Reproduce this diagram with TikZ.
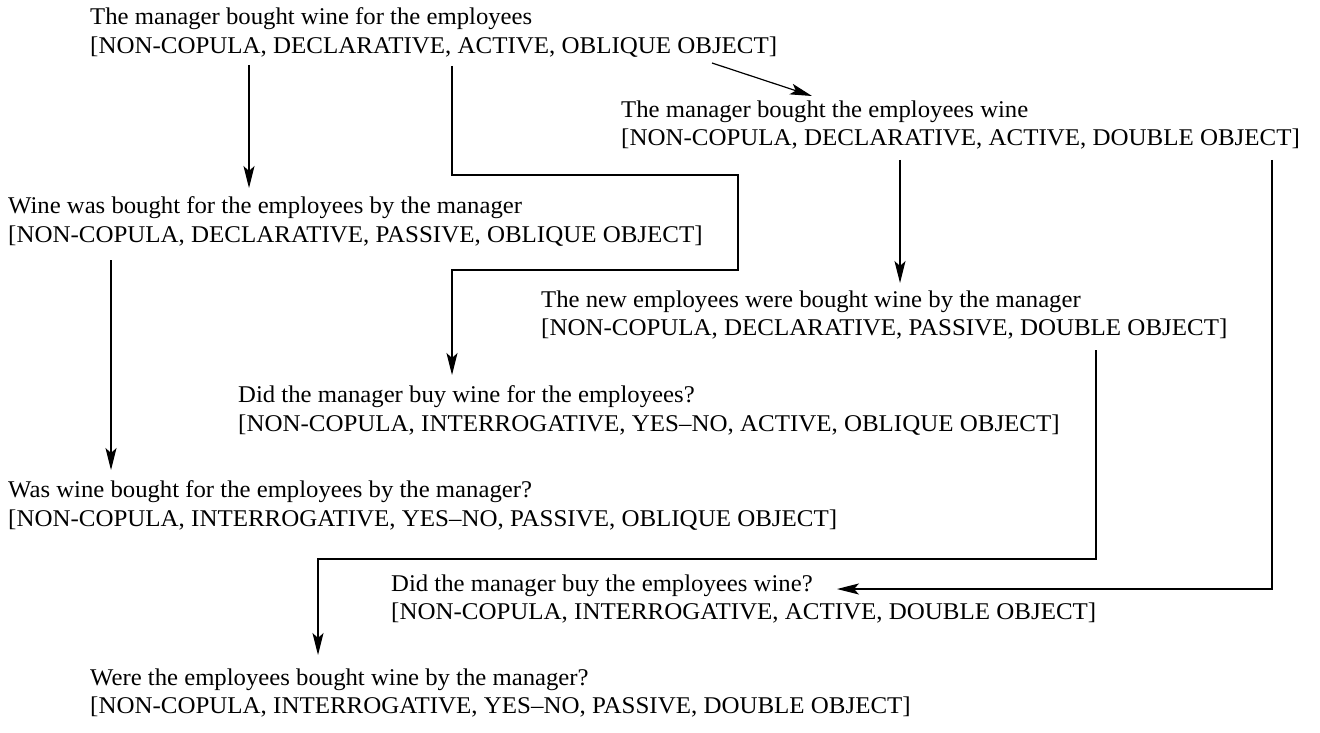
\documentclass[tikz,border=0pt]{standalone}
\usepackage{fontspec}
\setmainfont{Liberation Serif}[FakeStretch=1.03]
\newfontfamily\tagfont{Liberation Serif}[FakeStretch=1.04,Ligatures=TeX]
\usetikzlibrary{arrows.meta}
\newcommand\tagline[1]{{\tagfont #1}}
\tikzset{
  sent/.style={anchor=north west, inner sep=0pt, align=left, font=\fontsize{24}{28.5}\selectfont},
  arr/.style={line width=1.2pt, -{Stealth[length=22pt,width=11pt,inset=5pt]}}
}
\begin{document}
\begin{tikzpicture}[x=1pt,y=-1pt]
\useasboundingbox (0,0) rectangle (1320,733);
\node[sent] (n1) at (90,7.6) {The manager bought wine for the employees\\\tagline{[NON-COPULA, DECLARATIVE, ACTIVE, OBLIQUE OBJECT]}};
\node[sent] (n2) at (621,100.6) {The manager bought the employees wine\\\tagline{[NON-COPULA, DECLARATIVE, ACTIVE, DOUBLE OBJECT]}};
\node[sent] (n3) at (8,196.6) {Wine was bought for the employees by the manager\\\tagline{[NON-COPULA, DECLARATIVE, PASSIVE, OBLIQUE OBJECT]}};
\node[sent] (n4) at (541,290.6) {The new employees were bought wine by the manager\\\tagline{[NON-COPULA, DECLARATIVE, PASSIVE, DOUBLE OBJECT]}};
\node[sent] (n5) at (238,385.6) {Did the manager buy wine for the employees?\\\tagline{[NON-COPULA, INTERROGATIVE, YES–NO, ACTIVE, OBLIQUE OBJECT]}};
\node[sent] (n6) at (8,480.6) {Was wine bought for the employees by the manager?\\\tagline{[NON-COPULA, INTERROGATIVE, YES–NO, PASSIVE, OBLIQUE OBJECT]}};
\node[sent] (n7) at (391,574.6) {Did the manager buy the employees wine?\\\tagline{[NON-COPULA, INTERROGATIVE, ACTIVE, DOUBLE OBJECT]}};
\node[sent] (n8) at (90,668.6) {Were the employees bought wine by the manager?\\\tagline{[NON-COPULA, INTERROGATIVE, YES–NO, PASSIVE, DOUBLE OBJECT]}};
% connectors
\coordinate (a13) at (249,65);
\coordinate (e13) at (249,188);
\draw[arr] (a13) -- (e13);
\coordinate (a15) at (452,66);
\coordinate (b15) at (738,175);
\coordinate (c15) at (738,270);
\coordinate (e15) at (452,375);
\draw[arr] (a15) |- (b15) -- (c15) -| (e15);
\coordinate (a12) at (712,63);
\coordinate (e12) at (812,96);
\draw[arr] (a12) -- (e12);
\coordinate (a24) at (900,160);
\coordinate (e24) at (900,283);
\draw[arr] (a24) -- (e24);
\coordinate (a36) at (111,260);
\coordinate (e36) at (111,470);
\draw[arr] (a36) -- (e36);
\coordinate (a48) at (1096,350);
\coordinate (b48) at (1096,559);
\coordinate (e48) at (318,655);
\draw[arr] (a48) -- (b48) -| (e48);
\coordinate (a27) at (1272,160);
\coordinate (b27) at (1272,589);
\coordinate (e27) at (837,589);
\draw[arr] (a27) -- (b27) -- (e27);
\end{tikzpicture}
\end{document}
